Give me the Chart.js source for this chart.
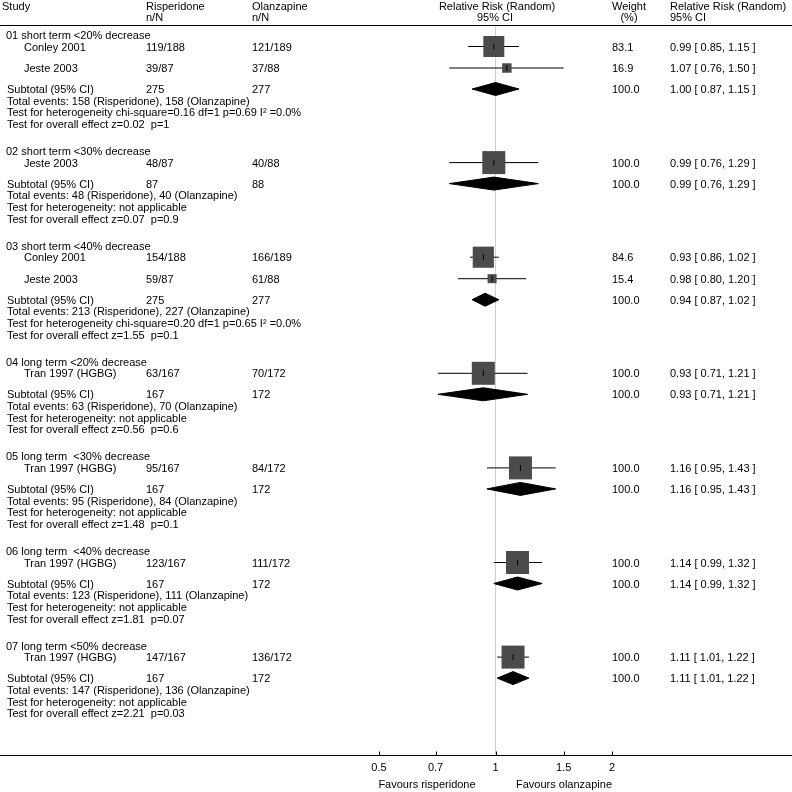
<!DOCTYPE html>
<html><head><meta charset="utf-8">
<script src="https://cdn.jsdelivr.net/npm/chart.js@4.4.0/dist/chart.umd.min.js"></script>
<style>html,body{margin:0;padding:0;background:#fff;}canvas{display:block}</style>
</head><body>
<canvas id="c" width="792" height="792"></canvas>
<script>
// ---------------- DATA ----------------
const groupTitles = [
  "01 short term <20% decrease",
  "02 short term <30% decrease",
  "03 short term <40% decrease",
  "04 long term <20% decrease",
  "05 long term  <30% decrease",
  "06 long term  <40% decrease",
  "07 long term <50% decrease"
];
const studyGroup   = [0, 0, 1, 2, 2, 3, 4, 5, 6];
const studyNames   = ["Conley 2001","Jeste 2003","Jeste 2003","Conley 2001","Jeste 2003","Tran 1997 (HGBG)","Tran 1997 (HGBG)","Tran 1997 (HGBG)","Tran 1997 (HGBG)"];
const rispEvents   = [119, 39, 48, 154, 59, 63, 95, 123, 147];
const rispTotal    = [188, 87, 87, 188, 87, 167, 167, 167, 167];
const olanEvents   = [121, 37, 40, 166, 61, 70, 84, 111, 136];
const olanTotal    = [189, 88, 88, 189, 88, 172, 172, 172, 172];
const studyRR      = [0.99, 1.07, 0.99, 0.93, 0.98, 0.93, 1.16, 1.14, 1.11];
const studyLo      = [0.85, 0.76, 0.76, 0.86, 0.80, 0.71, 0.95, 0.99, 1.01];
const studyHi      = [1.15, 1.50, 1.29, 1.02, 1.20, 1.21, 1.43, 1.32, 1.22];
const studyWeight  = [83.1, 16.9, 100.0, 84.6, 15.4, 100.0, 100.0, 100.0, 100.0];

const subRR        = [1.00, 0.99, 0.94, 0.93, 1.16, 1.14, 1.11];
const subLo        = [0.87, 0.76, 0.87, 0.71, 0.95, 0.99, 1.01];
const subHi        = [1.15, 1.29, 1.02, 1.21, 1.43, 1.32, 1.22];
const subRispN     = [275, 87, 275, 167, 167, 167, 167];
const subOlanN     = [277, 88, 277, 172, 172, 172, 172];
const totRispEv    = [158, 48, 213, 63, 95, 123, 147];
const totOlanEv    = [158, 40, 227, 70, 84, 111, 136];
const heterogeneity = ["chi-square=0.16 df=1 p=0.69 I\u00B2 =0.0%", ": not applicable", "chi-square=0.20 df=1 p=0.65 I\u00B2 =0.0%", ": not applicable", ": not applicable", ": not applicable", ": not applicable"];
const overallZ     = ["0.02", "0.07", "1.55", "0.56", "1.48", "1.81", "2.21"];
const overallP     = ["1", "0.9", "0.1", "0.6", "0.1", "0.07", "0.03"];

const xTicks       = [0.5, 0.7, 1, 1.5, 2];
const xTickLabels  = ["0.5", "0.7", "1", "1.5", "2"];
const favourLabels = ["Favours risperidone", "Favours olanzapine"];

// ---------------- LAYOUT ----------------
const FONT = "11px 'Liberation Sans', Arial, sans-serif";
const L = { top: 35, headToStudy: 11.5, studyGap: 21.5, toSubtotal: 21, line: 11.7, toNext: 27,
            headerLine: 25, axis: 755, diamondHalf: 6.5, textShift: 1 };
const COL = { study: 2, group: 6, name: 24, risp: 146, olan: 252, weight: 612, ci: 670, rrHead: 497, wHead: 629 };

const groupRowY = [], studyRowY = [], subRowY = [], statRowY = [];
(function () {
  let y = L.top;
  groupTitles.forEach((t, g) => {
    groupRowY.push(y);
    y += L.headToStudy;
    let first = true;
    studyGroup.forEach((gg, i) => {
      if (gg !== g) return;
      if (!first) y += L.studyGap;
      first = false;
      studyRowY[i] = y;
    });
    y += L.toSubtotal;
    subRowY.push(y);
    statRowY.push([y + L.line, y + 2 * L.line, y + 3 * L.line]);
    y += 3 * L.line + L.toNext;
  });
})();

const f2 = v => v.toFixed(2);
const ciText = (r, lo, hi) => `${f2(r)} [ ${f2(lo)}, ${f2(hi)} ]`;

// ---------------- DATASETS ----------------
const ciData = [];
studyRR.forEach((r, i) => {
  ciData.push({ x: studyLo[i], y: studyRowY[i] }, { x: studyHi[i], y: studyRowY[i] }, { x: null, y: null });
});
const sqData = studyRR.map((r, i) => ({ x: r, y: studyRowY[i], w: studyWeight[i] }));
const diamondSets = subRR.map((r, g) => ({
  type: 'scatter', showLine: true, order: 2,
  data: [
    { x: subLo[g], y: subRowY[g] }, { x: r, y: subRowY[g] - L.diamondHalf },
    { x: subHi[g], y: subRowY[g] }, { x: r, y: subRowY[g] + L.diamondHalf },
    { x: subLo[g], y: subRowY[g] }
  ],
  fill: 'shape', backgroundColor: '#000', borderColor: '#000', borderWidth: 1,
  pointRadius: 0, tension: 0
}));

const MAX_SIDE = 23;

const textPlugin = {
  id: 'forestText',
  afterDraw(chart) {
    const ctx = chart.ctx;
    const xs = chart.scales.x, ys = chart.scales.y;
    const W = chart.width;
    const py = v => ys.getPixelForValue(v);
    ctx.save();
    // lines
    ctx.strokeStyle = '#000'; ctx.lineWidth = 1;
    const hy = Math.round(py(L.headerLine)) + 0.5;
    ctx.beginPath(); ctx.moveTo(0, hy); ctx.lineTo(W, hy); ctx.stroke();
    const ay = Math.round(chart.chartArea.bottom) + 0.5;
    ctx.beginPath(); ctx.moveTo(0, ay); ctx.lineTo(W, ay); ctx.stroke();
    xTicks.forEach(t => {
      const x = Math.round(xs.getPixelForValue(t)) + 0.5;
      ctx.beginPath(); ctx.moveTo(x, ay - 4); ctx.lineTo(x, ay); ctx.stroke();
    });
    // text
    ctx.fillStyle = '#000'; ctx.font = FONT; ctx.textBaseline = 'middle';
    const T = (s, x, y, align) => { ctx.textAlign = align || 'left'; ctx.fillText(s, x, py(y) + L.textShift); };
    const h1 = 6, h2 = 17;
    T("Study", COL.study, h1);
    T("Risperidone", COL.risp, h1); T("n/N", COL.risp, h2);
    T("Olanzapine", COL.olan, h1); T("n/N", COL.olan, h2);
    T("Relative Risk (Random)", COL.rrHead, h1, 'center'); T("95% CI", COL.rrHead - 2, h2, 'center');
    T("Weight", COL.wHead, h1, 'center'); T("(%)", COL.wHead, h2, 'center');
    T("Relative Risk (Random)", COL.ci, h1); T("95% CI", COL.ci, h2);

    groupTitles.forEach((t, g) => {
      T(t, COL.group, groupRowY[g]);
      T("Subtotal (95% CI)", COL.group + 1, subRowY[g]);
      T(String(subRispN[g]), COL.risp, subRowY[g]);
      T(String(subOlanN[g]), COL.olan, subRowY[g]);
      T("100.0", COL.weight, subRowY[g]);
      T(ciText(subRR[g], subLo[g], subHi[g]), COL.ci, subRowY[g]);
      T(`Total events: ${totRispEv[g]} (Risperidone), ${totOlanEv[g]} (Olanzapine)`, COL.group + 1, statRowY[g][0]);
      const het = heterogeneity[g];
      T("Test for heterogeneity" + (het.startsWith(":") ? het : " " + het), COL.group + 1, statRowY[g][1]);
      T(`Test for overall effect z=${overallZ[g]}  p=${overallP[g]}`, COL.group + 1, statRowY[g][2]);
    });
    studyNames.forEach((n, i) => {
      T(n, COL.name, studyRowY[i]);
      T(`${rispEvents[i]}/${rispTotal[i]}`, COL.risp, studyRowY[i]);
      T(`${olanEvents[i]}/${olanTotal[i]}`, COL.olan, studyRowY[i]);
      T(studyWeight[i].toFixed(1), COL.weight, studyRowY[i]);
      T(ciText(studyRR[i], studyLo[i], studyHi[i]), COL.ci, studyRowY[i]);
    });
    // favours labels
    ctx.textAlign = 'center';
    ctx.fillText(favourLabels[0], 427, ay + 29);
    ctx.fillText(favourLabels[1], 564, ay + 29);
    ctx.restore();
  }
};

new Chart(document.getElementById('c'), {
  type: 'scatter',
  data: {
    datasets: [
      { label: 'tick', data: studyRR.map((r, i) => ({ x: r, y: studyRowY[i] })), order: 0,
        pointStyle: 'line', rotation: 90, pointRadius: 3, borderColor: '#000', borderWidth: 1, backgroundColor: '#000' },
      { label: 'weight', data: sqData, order: 1, pointStyle: 'rect',
        pointRadius: c => (MAX_SIDE * Math.sqrt(c.raw.w / 100)) / (2 * Math.SQRT1_2),
        backgroundColor: '#4b4b4b', borderWidth: 0, borderColor: '#4b4b4b' },
      { label: 'ci', data: ciData, order: 2, showLine: true, spanGaps: false,
        borderColor: '#000', borderWidth: 1, pointRadius: 0 },
      ...diamondSets,
      { label: 'ref', data: [{ x: 1, y: L.headerLine + 1 }, { x: 1, y: L.axis }], order: 9, showLine: true,
        borderColor: '#cfcfcf', borderWidth: 1, pointRadius: 0 }
    ]
  },
  options: {
    responsive: false, animation: false, devicePixelRatio: 1,
    layout: { autoPadding: false, padding: { left: 379, right: 180, top: 0, bottom: 0 } },
    plugins: { legend: { display: false }, tooltip: { enabled: false } },
    scales: {
      x: {
        type: 'logarithmic', min: 0.5, max: 2,
        grid: { display: false, drawTicks: false }, border: { display: false },
        afterBuildTicks: s => { s.ticks = xTicks.map(v => ({ value: v })); },
        afterFit: s => { s.height = 792 - L.axis; },
        ticks: { autoSkip: false, maxRotation: 0, padding: 6, color: '#000',
          font: { family: "'Liberation Sans', Arial, sans-serif", size: 11 },
          callback: (v, i) => xTickLabels[i] }
      },
      y: { type: 'linear', display: false, reverse: true, min: 0, max: L.axis }
    }
  },
  plugins: [textPlugin]
});
</script>
</body></html>
